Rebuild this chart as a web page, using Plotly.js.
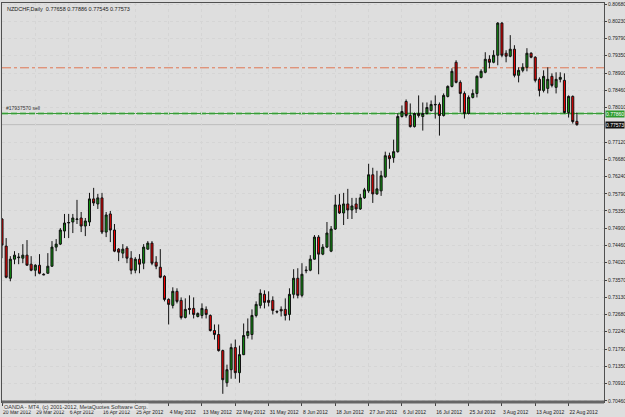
<!DOCTYPE html>
<html>
<head>
<meta charset="utf-8">
<script src="https://cdn.plot.ly/plotly-3.0.1.min.js"></script>
<style>
html,body{margin:0;padding:0;background:#dedede;}
#chart{width:625px;height:417px;}
</style>
</head>
<body>
<div id="chart"></div>
<script>
// NZDCHF Daily, OANDA MT4 — bar-by-bar OHLC
const opens = [
0.75143,0.74445,0.73617,0.74108,0.74147,0.74134,0.74212,0.73979,0.73824,0.73953,
0.73720,0.73746,0.73927,0.74419,0.74496,0.74833,0.75040,0.75066,0.75130,0.75169,
0.74962,0.75066,0.75661,0.75531,0.75687,0.74807,0.75273,0.74859,0.74367,0.74264,
0.74393,0.74134,0.73824,0.74108,0.74005,0.74367,0.74522,0.74031,0.73901,0.73668,
0.73073,0.72918,0.73280,0.73047,0.72608,0.72840,0.72840,0.72633,0.72659,0.72815,
0.72659,0.72271,0.72168,0.71754,0.70926,0.71262,0.71831,0.71185,0.71650,0.72142,
0.72168,0.72659,0.72918,0.73203,0.73047,0.73047,0.72763,0.72815,0.72815,0.72685,
0.73203,0.73617,0.73177,0.73811,0.73824,0.74108,0.74677,0.74238,0.74419,0.74315,
0.74884,0.75505,0.75298,0.75531,0.75376,0.75531,0.75402,0.75687,0.75868,0.76282,
0.75790,0.75868,0.76230,0.76773,0.76721,0.76877,0.77782,0.78170,0.77808,0.77523,
0.77860,0.77782,0.77860,0.77937,0.78080,0.78093,0.77808,0.78300,0.78558,0.79179,
0.78662,0.78377,0.77860,0.78274,0.78377,0.78791,0.78921,0.79257,0.79179,0.79360,
0.80188,0.79412,0.79335,0.79516,0.78843,0.78972,0.79050,0.79412,0.79309,0.78740,
0.78455,0.78507,0.78817,0.78533,0.78740,0.78714,0.77886,0.78300,0.77658];
const highs = [
0.75169,0.74652,0.74186,0.74315,0.74264,0.74496,0.74600,0.74186,0.73979,0.74238,
0.73746,0.74264,0.74574,0.74626,0.74910,0.75273,0.75273,0.75273,0.75635,0.75324,
0.75169,0.75816,0.75945,0.75790,0.75816,0.75324,0.75350,0.75014,0.74393,0.74496,
0.74445,0.74315,0.74160,0.74238,0.74496,0.74574,0.74574,0.74186,0.74367,0.73694,
0.73099,0.73384,0.73358,0.73125,0.73099,0.73177,0.73125,0.72737,0.72970,0.72892,
0.72685,0.72427,0.72427,0.71780,0.71392,0.71935,0.72038,0.71883,0.72452,0.72582,
0.72815,0.73022,0.73332,0.73306,0.73280,0.73151,0.72789,0.72892,0.73099,0.73358,
0.73850,0.73875,0.74005,0.73927,0.74212,0.74729,0.74729,0.74496,0.75066,0.74962,
0.75764,0.75790,0.75816,0.75919,0.75687,0.75687,0.75790,0.75945,0.76566,0.76463,
0.76385,0.76385,0.76877,0.76851,0.77187,0.77860,0.78067,0.78222,0.78119,0.77886,
0.78326,0.78144,0.78144,0.78196,0.78326,0.78144,0.78377,0.78584,0.79024,0.79231,
0.78714,0.78429,0.78326,0.78481,0.78843,0.78998,0.79438,0.79360,0.79490,0.80214,
0.80214,0.79490,0.79878,0.79619,0.79050,0.79154,0.79542,0.79438,0.79335,0.78791,
0.78972,0.79050,0.78895,0.78921,0.78921,0.78895,0.78326,0.78326,0.77886];
const lows = [
0.74134,0.73617,0.73539,0.73979,0.73979,0.74005,0.73940,0.73798,0.73668,0.73720,
0.73694,0.73733,0.73914,0.74315,0.74471,0.74652,0.74652,0.74781,0.75014,0.74807,
0.74703,0.74962,0.75480,0.75402,0.74755,0.74677,0.74548,0.74289,0.74057,0.74134,
0.74005,0.73720,0.73746,0.73746,0.73850,0.74354,0.73953,0.73850,0.73617,0.73022,
0.72427,0.72840,0.72970,0.72556,0.72582,0.72685,0.72582,0.72608,0.72582,0.72582,
0.72245,0.72038,0.71728,0.70641,0.70822,0.71029,0.71029,0.70926,0.71637,0.72064,
0.72038,0.72608,0.72840,0.72840,0.72892,0.72685,0.72711,0.72633,0.72530,0.72530,
0.73099,0.73099,0.73125,0.73746,0.73798,0.74095,0.73720,0.74212,0.74393,0.74289,
0.74859,0.75273,0.74988,0.75143,0.75143,0.75298,0.75376,0.75661,0.75816,0.75557,
0.75764,0.75738,0.76204,0.76437,0.76592,0.76851,0.77756,0.77756,0.77498,0.77498,
0.77756,0.77420,0.77834,0.77912,0.77730,0.77291,0.77782,0.78274,0.78533,0.78636,
0.77886,0.77730,0.77834,0.78248,0.78274,0.78765,0.78895,0.79024,0.79154,0.79102,
0.79309,0.79179,0.79309,0.78791,0.78662,0.78921,0.78947,0.79283,0.78662,0.78300,
0.78403,0.78377,0.78533,0.78377,0.78662,0.77860,0.77756,0.77601,0.77545];
const closes = [
0.74471,0.73643,0.74108,0.74212,0.74160,0.74212,0.73953,0.73824,0.73953,0.73746,
0.73707,0.73927,0.74419,0.74496,0.74859,0.75040,0.75053,0.75169,0.75143,0.74962,
0.75092,0.75661,0.75557,0.75687,0.74807,0.75247,0.74859,0.74315,0.74289,0.74367,
0.74134,0.73824,0.74108,0.73979,0.74419,0.74522,0.74005,0.73927,0.73643,0.73073,
0.72944,0.73280,0.73022,0.72608,0.72815,0.72815,0.72685,0.72711,0.72840,0.72685,
0.72271,0.72168,0.71754,0.71004,0.71262,0.71831,0.71185,0.71650,0.72142,0.72245,
0.72659,0.72944,0.73229,0.72996,0.72996,0.72789,0.72750,0.72776,0.72659,0.73203,
0.73617,0.73177,0.73720,0.73824,0.74108,0.74677,0.74238,0.74419,0.74781,0.74884,
0.75505,0.75298,0.75531,0.75376,0.75480,0.75402,0.75687,0.75894,0.76282,0.75790,
0.75919,0.76256,0.76773,0.76696,0.76877,0.77782,0.77912,0.77808,0.77523,0.77860,
0.77808,0.77860,0.78015,0.78093,0.78093,0.77808,0.78326,0.78558,0.78947,0.78662,
0.78377,0.77860,0.78274,0.78377,0.78817,0.78947,0.79257,0.79179,0.79360,0.80188,
0.79360,0.79335,0.79516,0.78843,0.78972,0.79050,0.79412,0.79309,0.78714,0.78455,
0.78817,0.78740,0.78584,0.78740,0.78791,0.77886,0.78300,0.77653,0.77573];

const dateLabels = ["20 Mar 2012","29 Mar 2012","6 Apr 2012","16 Apr 2012","25 Apr 2012",
  "4 May 2012","13 May 2012","22 May 2012","31 May 2012","8 Jun 2012","18 Jun 2012",
  "27 Jun 2012","6 Jul 2012","16 Jul 2012","25 Jul 2012","3 Aug 2012","13 Aug 2012","22 Aug 2012"];
const barsPerLabel = 8;
const priceTicks = [0.80680,0.80230,0.79790,0.79350,0.78900,0.78460,0.78010,0.77120,0.76680,
  0.76240,0.75790,0.75350,0.74900,0.74460,0.74020,0.73570,0.73130,0.72680,0.72240,0.71790,
  0.71350,0.70910,0.70460];
const levelDashDot = 0.79037;   // orange dash-dot level
const levelOrder = 0.77860;     // green order line (#17937570 sell)
const orderLabel = "#17937570 sell";
const symbolTitle = "NZDCHF,Daily";
const lastO = opens[opens.length-1], lastH = highs[highs.length-1],
      lastL = lows[lows.length-1], lastC = closes[closes.length-1];

const xIdx = opens.map((_, i) => i);
const f5 = v => v.toFixed(5);
const fontTxt = "Liberation Sans, Arial, sans-serif";

const trace = {
  type: 'candlestick',
  x: xIdx, open: opens, high: highs, low: lows, close: closes,
  increasing: {line: {color: '#111111', width: 1}, fillcolor: '#109010'},
  decreasing: {line: {color: '#111111', width: 1}, fillcolor: '#f00000'},
  whiskerwidth: 0,
  hoverinfo: 'none'
};

const layout = {
  width: 625, height: 417,
  margin: {l: 2, r: 21, t: 3, b: 15},
  paper_bgcolor: '#dedede', plot_bgcolor: '#dedede',
  showlegend: false,
  font: {family: fontTxt, size: 5.5, color: '#222'},
  xaxis: {
    range: [0.0, 144.5],
    rangeslider: {visible: false},
    tickvals: dateLabels.map((_, i) => i * barsPerLabel),
    ticktext: dateLabels,
    tickangle: 0,
    ticks: 'outside', ticklen: 3, tickcolor: '#444',
    ticklabelposition: 'outside right',
    ticklabelstandoff: 5,
    tickfont: {family: fontTxt, size: 5, color: '#222'},
    showgrid: true, gridcolor: '#d5d5d5', griddash: 'dot', gridwidth: 1,
    showline: true, linecolor: '#505050', linewidth: 1, mirror: true,
    zeroline: false, fixedrange: true, automargin: false
  },
  yaxis: {
    side: 'right',
    range: [0.70430, 0.80706],
    tickvals: priceTicks,
    ticktext: priceTicks.map(f5),
    ticks: 'outside', ticklen: 2, tickcolor: '#444',
    tickfont: {family: fontTxt, size: 5, color: '#222'},
    showgrid: true, gridcolor: '#d5d5d5', griddash: 'dot', gridwidth: 1,
    showline: true, linecolor: '#505050', linewidth: 1, mirror: true,
    zeroline: false, fixedrange: true, automargin: false
  },
  shapes: [
    {type: 'line', xref: 'paper', x0: 0, x1: 1, yref: 'y', y0: levelDashDot, y1: levelDashDot,
     line: {color: '#e07552', width: 1, dash: 'dashdot'}, layer: 'below'},
    {type: 'line', xref: 'paper', x0: 0, x1: 1, yref: 'y', y0: levelOrder, y1: levelOrder,
     line: {color: 'rgba(120,200,120,0.6)', width: 3, dash: '6px,3px'}, layer: 'below'},
    {type: 'line', xref: 'paper', x0: 0, x1: 1, yref: 'y', y0: levelOrder, y1: levelOrder,
     line: {color: '#3a9a3a', width: 1}, layer: 'below'},
    {type: 'line', xref: 'paper', x0: 0, x1: 1, yref: 'y', y0: lastC, y1: lastC,
     line: {color: '#bcbcbc', width: 1}, layer: 'below'},
    {type: 'line', xref: 'paper', x0: 0, x1: 1, yref: 'paper', y0: 0, y1: 0,
     line: {color: '#666666', width: 3}}
  ],
  annotations: [
    {xref: 'paper', yref: 'paper', x: 0, y: 1, xanchor: 'left', yanchor: 'top',
     xshift: 3, yshift: -1, showarrow: false,
     text: symbolTitle + '  ' + [lastO, lastH, lastL, lastC].map(f5).join(' '),
     font: {family: fontTxt, size: 5.5, color: '#1a1a1a'}},
    {xref: 'paper', yref: 'y', x: 0, y: levelOrder, xanchor: 'left', yanchor: 'bottom',
     xshift: 2, yshift: 1, showarrow: false, text: orderLabel,
     font: {family: fontTxt, size: 5, color: '#333'}},
    {xref: 'paper', yref: 'y', x: 1, y: levelOrder, xanchor: 'left', yanchor: 'middle',
     xshift: 1, showarrow: false, text: f5(levelOrder), bgcolor: '#2e9a2e', borderpad: 0,
     font: {family: fontTxt, size: 5, color: '#ffffff'}},
    {xref: 'paper', yref: 'y', x: 1, y: lastC, xanchor: 'left', yanchor: 'middle',
     xshift: 1, showarrow: false, text: f5(lastC), bgcolor: '#111111', borderpad: 0,
     font: {family: fontTxt, size: 5, color: '#ffffff'}},
    {xref: 'paper', yref: 'paper', x: 0, y: 0, xanchor: 'left', yanchor: 'top',
     xshift: 1, yshift: -1, showarrow: false,
     text: 'OANDA - MT4, (c) 2001-2012, MetaQuotes Software Corp.',
     bgcolor: '#e6e6e6', borderpad: 0,
     font: {family: fontTxt, size: 5.5, color: '#333'}}
  ]
};

Plotly.newPlot('chart', [trace], layout, {displayModeBar: false, staticPlot: true});
</script>
</body>
</html>
